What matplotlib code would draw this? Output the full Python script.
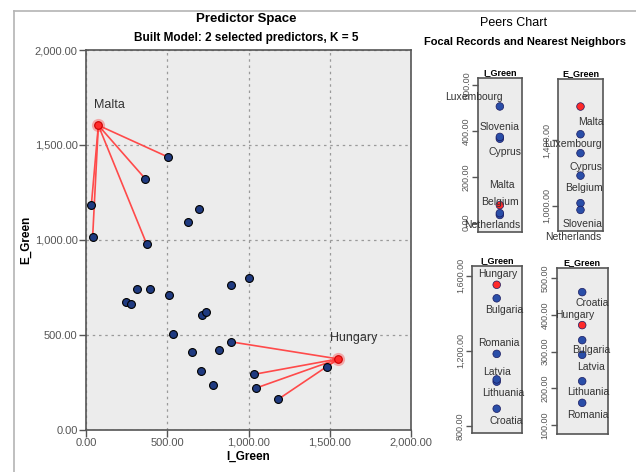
import matplotlib
matplotlib.use('Agg')
import matplotlib.pyplot as plt
from matplotlib.lines import Line2D
from matplotlib.ticker import FuncFormatter

plt.rcParams['font.family'] = ['Liberation Sans', 'DejaVu Sans']

# ── Data ────────────────────────────────────────────────────────────────
# focal records and their five nearest neighbours
malta_names  = ['Malta', 'Luxembourg', 'Cyprus', 'Belgium', 'Netherlands', 'Slovenia']
malta_i      = [76, 507, 366, 33, 41, 374]
malta_e      = [1603, 1435, 1320, 1184, 1017, 976]

hungary_names = ['Hungary', 'Croatia', 'Latvia', 'Lithuania', 'Romania', 'Bulgaria']
hungary_i     = [1552, 892, 1036, 1048, 1184, 1480]
hungary_e     = [372, 462, 291, 219, 160, 331]

# remaining records in the predictor space
other_i = [695, 627, 312, 395, 245, 277, 512, 892, 1005, 713, 736, 536, 651, 820, 705, 779]
other_e = [1160, 1094, 743, 738, 674, 664, 711, 764, 798, 604, 620, 505, 406, 420, 310, 233]

W, H = 636, 472
fig = plt.figure(figsize=(W / 100, H / 100), dpi=100)
fig.patch.set_facecolor('white')

BG     = '#ececec'
DOT    = '#1f3a80'
PEERDOT = '#2a4ea8'
RED    = '#ff2a2a'
LINE   = '#ff4a4a'
SPINE  = '#555555'
TICKC  = '#555555'
LABC   = '#333333'

fmt = FuncFormatter(lambda v, p: f'{v:,.2f}')


def px_axes(x0, y0, x1, y1):
    # axes from pixel box (top-left origin)
    return fig.add_axes([x0 / W, 1 - y1 / H, (x1 - x0) / W, (y1 - y0) / H])


# outer frame
fig.add_artist(Line2D([14 / W, 14 / W], [0, 1 - 11 / H], transform=fig.transFigure,
                      color='#b4b4b4', lw=1.2))
fig.add_artist(Line2D([14 / W, 1], [1 - 11 / H, 1 - 11 / H], transform=fig.transFigure,
                      color='#b4b4b4', lw=1.2))

# ── Predictor space ────────────────────────────────────────────────────
ax = px_axes(86, 50, 411, 429.5)
ax.set_facecolor(BG)
ax.set_xlim(0, 2000)
ax.set_ylim(0, 2000)
ticks = [0, 500, 1000, 1500, 2000]
ax.set_xticks(ticks)
ax.set_yticks(ticks)
ax.xaxis.set_major_formatter(fmt)
ax.yaxis.set_major_formatter(fmt)
ax.tick_params(direction='out', length=5, width=1, color=SPINE, labelcolor=TICKC,
               labelsize=8, pad=1)
for s in ax.spines.values():
    s.set_color(SPINE)
    s.set_linewidth(1.2)
ax.grid(True, color='#9a9a9a', ls=(0, (2, 3)), lw=0.9)
ax.set_axisbelow(True)

for names, xi, ye in [(malta_names, malta_i, malta_e), (hungary_names, hungary_i, hungary_e)]:
    for k in range(1, len(names)):
        ax.plot([xi[0], xi[k]], [ye[0], ye[k]], color=LINE, lw=1.2, zorder=2)

all_i = other_i + malta_i[1:] + hungary_i[1:]
all_e = other_e + malta_e[1:] + hungary_e[1:]
ax.scatter(all_i, all_e, s=32, color=DOT, edgecolor='black', linewidth=0.8, zorder=3)
ax.scatter([malta_i[0], hungary_i[0]], [malta_e[0], hungary_e[0]], s=90,
           color=RED, alpha=0.35, linewidth=0, zorder=4)
ax.scatter([malta_i[0], hungary_i[0]], [malta_e[0], hungary_e[0]], s=30,
           color=RED, edgecolor='#cc0000', linewidth=0.8, zorder=5)
ax.annotate('Malta', (malta_i[0], malta_e[0]), xytext=(-4, 20), textcoords='offset pixels',
            ha='left', va='center', fontsize=9, color=LABC)
ax.annotate('Hungary', (hungary_i[0], hungary_e[0]), xytext=(-8, 21), textcoords='offset pixels',
            ha='left', va='center', fontsize=9, color=LABC)

ax.set_xlabel('I_Green', fontsize=8.5, fontweight='bold', labelpad=2)
ax.set_ylabel('E_Green', fontsize=8.5, fontweight='bold', labelpad=2)

fig.text(246 / W, 1 - 19 / H, 'Predictor Space', ha='center', va='center',
         fontsize=9.5, fontweight='bold')
fig.text(246 / W, 1 - 38 / H, 'Built Model: 2 selected predictors, K = 5', ha='center',
         va='center', fontsize=8.5, fontweight='bold')

# ── Peers chart ─────────────────────────────────────────────────────────
fig.text(514 / W, 1 - 23 / H, 'Peers Chart', ha='center', va='center', fontsize=9)
fig.text(424 / W, 1 - 42 / H, 'Focal Records and Nearest Neighbors', ha='left',
         va='center', fontsize=8, fontweight='bold')

# label offsets in pixels (dx, dy, ha)
off_p1 = {'Luxembourg': (3, 9, 'right'), 'Slovenia': (0, 10, 'center'),
          'Cyprus': (5, -13, 'center'), 'Malta': (2, 20, 'center'),
          'Belgium': (0, 13, 'center'), 'Netherlands': (-8, -12, 'center')}
off_p2 = {'Malta': (10, -15, 'center'), 'Luxembourg': (-8, -10, 'center'),
          'Cyprus': (6, -14, 'center'), 'Belgium': (3, -12, 'center'),
          'Slovenia': (2, -14, 'center'), 'Netherlands': (-7, -34, 'center')}
off_p3 = {'Hungary': (1, 11, 'center'), 'Bulgaria': (7, -12, 'center'),
          'Romania': (2, 11, 'center'), 'Latvia': (0, 10, 'center'),
          'Lithuania': (6, -14, 'center'), 'Croatia': (9, -12, 'center')}
off_p4 = {'Croatia': (10, -11, 'center'), 'Hungary': (-7, 10, 'center'),
          'Bulgaria': (9, -10, 'center'), 'Latvia': (9, -12, 'center'),
          'Lithuania': (6, -11, 'center'), 'Romania': (6, -12, 'center')}


def peer_panel(box, names, vals, title, ylim, yticks, offsets):
    pa = px_axes(*box)
    pa.set_facecolor(BG)
    pa.set_xlim(0, 1)
    pa.set_ylim(*ylim)
    pa.set_xticks([])
    pa.set_yticks(yticks)
    pa.yaxis.set_major_formatter(fmt)
    pa.tick_params(axis='y', direction='out', length=4, width=1, color=SPINE,
                   labelcolor=TICKC, labelsize=6.5, pad=1)
    for lab in pa.get_yticklabels():
        lab.set_rotation(90)
        lab.set_va('center')
    for s in pa.spines.values():
        s.set_color(SPINE)
        s.set_linewidth(1.2)
    pa.set_title(title, fontsize=6.5, fontweight='bold', pad=2)
    cols = [RED if k == 0 else PEERDOT for k in range(len(names))]
    pa.scatter([0.5] * len(vals), vals, s=30, color=cols, edgecolor='#1a1a60',
               linewidth=0.5, zorder=3)
    for n, v in zip(names, vals):
        dx, dy, ha = offsets[n]
        pa.annotate(n, (0.5, v), xytext=(dx, dy), textcoords='offset pixels',
                    ha=ha, va='center', fontsize=7.5, color=LABC, annotation_clip=False,
                    zorder=4)
    return pa


peer_panel((478, 78.3, 521.7, 231.7), malta_names, malta_i, 'I_Green',
           (-40, 630), [0, 200, 400, 600], off_p1)
peer_panel((557.7, 79, 603.3, 230.7), malta_names, malta_e, 'E_Green',
           (850, 1770), [1000, 1400], off_p2)
peer_panel((471.7, 266, 521.7, 433.3), hungary_names, hungary_i, 'I_Green',
           (761, 1652), [800, 1200, 1600], off_p3)
peer_panel((556.7, 268.3, 607.7, 434), hungary_names, hungary_e, 'E_Green',
           (75, 527), [100, 200, 300, 400, 500], off_p4)

fig.savefig('out.png', dpi=100, facecolor='white')
